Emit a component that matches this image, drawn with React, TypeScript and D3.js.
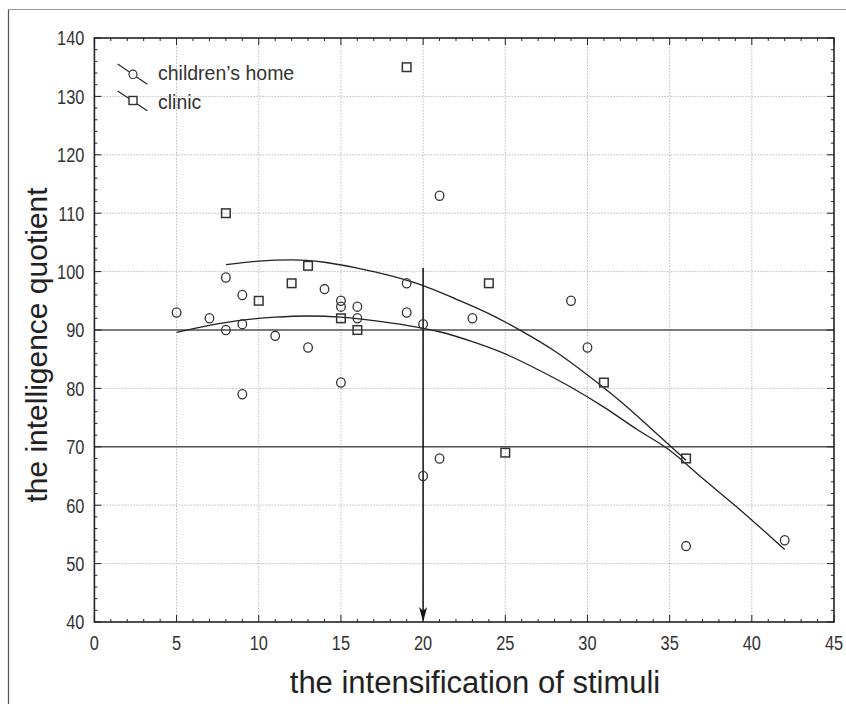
import React from "react";
import * as d3 from "d3";

// children's home (circles)
const homeX = [5, 7, 8, 8, 9, 9, 9, 11, 13, 14, 15, 15, 15, 16, 16, 19, 19, 20, 20, 21, 21, 23, 29, 30, 36, 42];
const homeY = [93, 92, 99, 90, 96, 91, 79, 89, 87, 97, 95, 94, 81, 94, 92, 98, 93, 91, 65, 113, 68, 92, 95, 87, 53, 54];

// clinic (squares)
const clinicX = [8, 10, 12, 13, 15, 16, 19, 24, 25, 31, 36];
const clinicY = [110, 95, 98, 101, 92, 90, 135, 98, 69, 81, 68];

// fitted curves
const homeFitX = [5, 7, 9, 11, 13, 15, 17, 19, 21, 23, 25, 27, 29, 31, 33, 35, 37, 39, 42];
const homeFitY = [89.6, 90.8, 91.7, 92.2, 92.4, 92.2, 91.6, 90.8, 89.7, 88.0, 85.9, 83.2, 80.2, 76.8, 73.0, 69.4, 64.6, 59.9, 52.4];
const clinicFitX = [8, 10, 12, 14, 16, 18, 20, 22, 24, 26, 28, 30, 32, 34, 36];
const clinicFitY = [101.2, 101.8, 102.0, 101.6, 100.6, 99.3, 97.6, 95.3, 92.8, 89.8, 86.4, 82.3, 77.8, 72.8, 67.7];

const xTicks = [0, 5, 10, 15, 20, 25, 30, 35, 40, 45];
const yTicks = [40, 50, 60, 70, 80, 90, 100, 110, 120, 130, 140];
const refLines = [90, 70];
const cutX = 20;
const cutTop = 100.6;

const W = 846;
const H = 704;
const L = 94.4;
const R = 834;
const T = 38;
const B = 622;

const textFont = "'Liberation Sans', Arial, sans-serif";

export default function App() {
  const x = d3.scaleLinear().domain([0, 45]).range([L, R]);
  const y = d3.scaleLinear().domain([40, 140]).range([B, T]);

  const home = homeX.map((v, i) => [v, homeY[i]]);
  const clinic = clinicX.map((v, i) => [v, clinicY[i]]);
  const homeFit = homeFitX.map((v, i) => [v, homeFitY[i]]);
  const clinicFit = clinicFitX.map((v, i) => [v, clinicFitY[i]]);

  const line = d3
    .line<number[]>()
    .x((d) => x(d[0]))
    .y((d) => y(d[1]))
    .curve(d3.curveMonotoneX);

  const minorX = d3.range(0, 46, 1);
  const minorY = d3.range(40, 141, 2);

  return (
    <svg
      width={W}
      height={H}
      style={{ position: "absolute", left: 0, top: 0, background: "#fff" }}
    >
      {/* outer frame */}
      <line x1={8.5} y1={9.5} x2={W} y2={9.5} stroke="#999" strokeWidth={1.2} />
      <line x1={8.5} y1={9.5} x2={8.5} y2={H} stroke="#555" strokeWidth={1.2} />

      {/* grid */}
      {xTicks.slice(1, -1).map((t) => (
        <line key={"gx" + t} x1={x(t)} x2={x(t)} y1={T} y2={B} stroke="#bbb" strokeDasharray="1.5,1.5" />
      ))}
      {yTicks.slice(1, -1).map((t) => (
        <line key={"gy" + t} x1={L} x2={R} y1={y(t)} y2={y(t)} stroke="#bbb" strokeDasharray="1.5,1.5" />
      ))}

      {/* reference lines */}
      {refLines.map((t) => (
        <line key={"r" + t} x1={L} x2={R} y1={y(t)} y2={y(t)} stroke="#555" strokeWidth={1.4} />
      ))}

      {/* minor / major ticks, inward */}
      {minorX.map((t) => {
        const len = t % 5 === 0 ? 7 : 3;
        return (
          <g key={"tx" + t} stroke="#222" strokeWidth={1}>
            <line x1={x(t)} x2={x(t)} y1={B} y2={B - len} />
            <line x1={x(t)} x2={x(t)} y1={T} y2={T + len} />
          </g>
        );
      })}
      {minorY.map((t) => {
        const len = t % 10 === 0 ? 7 : 3;
        return (
          <g key={"ty" + t} stroke="#222" strokeWidth={1}>
            <line x1={L} x2={L + len} y1={y(t)} y2={y(t)} />
            <line x1={R} x2={R - len} y1={y(t)} y2={y(t)} />
          </g>
        );
      })}

      {/* fitted curves */}
      <path d={line(homeFit) || ""} fill="none" stroke="#222" strokeWidth={1.3} />
      <path d={line(clinicFit) || ""} fill="none" stroke="#222" strokeWidth={1.3} />

      {/* arrow at x = 20 */}
      <line x1={x(cutX)} x2={x(cutX)} y1={y(cutTop)} y2={B - 6} stroke="#111" strokeWidth={1.5} />
      <path
        d={`M${x(cutX)},${B} L${x(cutX) - 4},${B - 15} L${x(cutX)},${B - 11} L${x(cutX) + 4},${B - 15} Z`}
        fill="#111"
      />

      {/* points */}
      {home.map((d, i) => (
        <ellipse key={"h" + i} cx={x(d[0])} cy={y(d[1])} rx={4.3} ry={4.6} fill="none" stroke="#333" strokeWidth={1.3} />
      ))}
      {clinic.map((d, i) => (
        <rect key={"c" + i} x={x(d[0]) - 4.3} y={y(d[1]) - 4.3} width={8.6} height={8.6} fill="none" stroke="#333" strokeWidth={1.5} />
      ))}

      {/* plot frame */}
      <rect x={L} y={T} width={R - L} height={B - T} fill="none" stroke="#222" strokeWidth={1.6} />

      {/* tick labels (narrow) */}
      {yTicks.map((t) => (
        <text
          key={"ly" + t}
          transform={`translate(${L - 10}, ${y(t)}) scale(0.78, 1)`}
          dy="0.35em"
          textAnchor="end"
          fontFamily={textFont}
          fontSize={21}
          fill="#333"
        >
          {t}
        </text>
      ))}
      {xTicks.map((t) => (
        <text
          key={"lx" + t}
          transform={`translate(${x(t)}, 650) scale(0.78, 1)`}
          textAnchor="middle"
          fontFamily={textFont}
          fontSize={21}
          fill="#333"
        >
          {t}
        </text>
      ))}

      {/* axis titles */}
      <text x={475} y={693} textAnchor="middle" fontFamily={textFont} fontSize={31} fill="#222">
        the intensification of stimuli
      </text>
      <text
        transform={`translate(47, 345) rotate(-90)`}
        textAnchor="middle"
        fontFamily={textFont}
        fontSize={30}
        fill="#222"
      >
        the intelligence quotient
      </text>

      {/* legend */}
      <g stroke="#222" strokeWidth={1.1}>
        <line x1={117.7} y1={64} x2={147.3} y2={84.3} />
        <line x1={117.7} y1={91} x2={147.3} y2={110.7} />
      </g>
      <ellipse cx={133} cy={74.3} rx={4} ry={4.2} fill="#fff" stroke="#333" strokeWidth={1.2} />
      <rect x={129} y={96.5} width={8} height={8} fill="#fff" stroke="#333" strokeWidth={1.4} />
      <text x={158} y={80} fontFamily={textFont} fontSize={19.5} fill="#333">
        children’s home
      </text>
      <text x={158} y={109} fontFamily={textFont} fontSize={19.5} fill="#333">
        clinic
      </text>
    </svg>
  );
}
